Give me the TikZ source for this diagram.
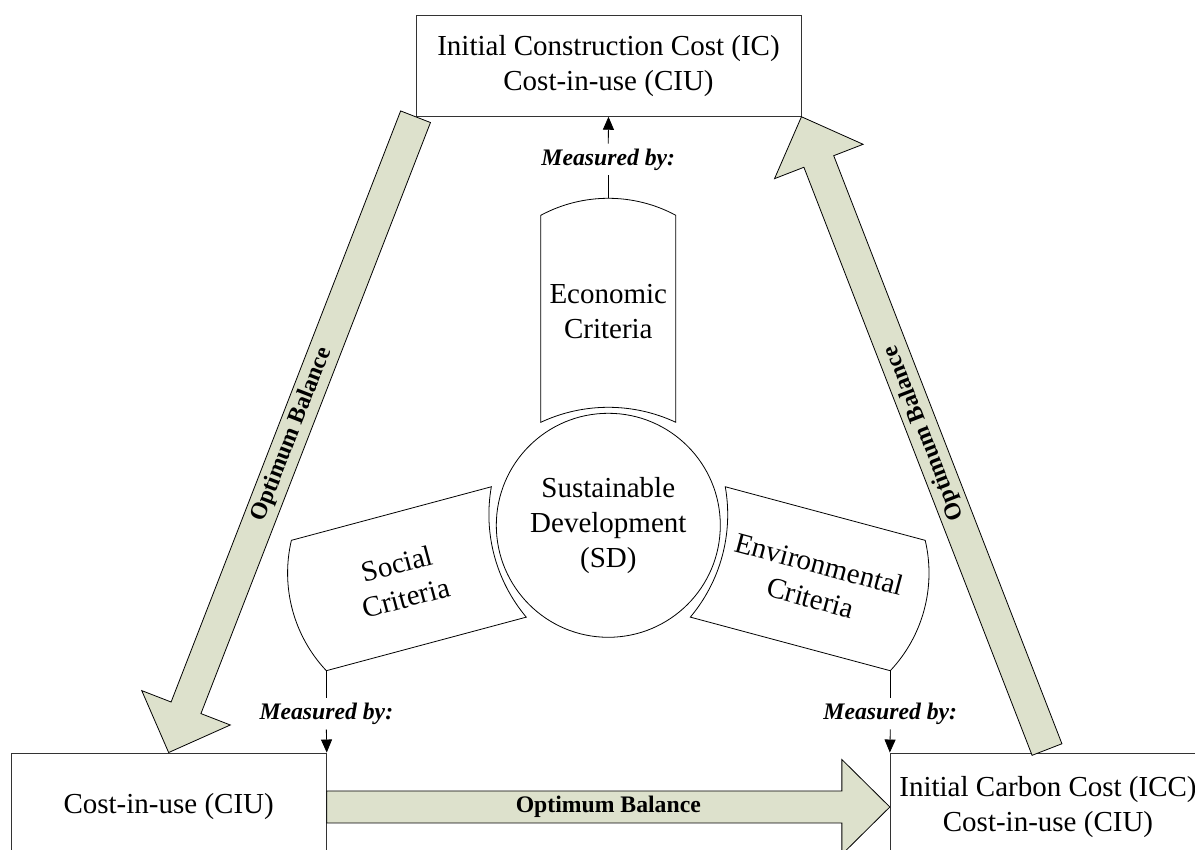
\documentclass[tikz,border=0pt]{standalone}
\usepackage{fontspec}
\setmainfont{Liberation Serif}
\usetikzlibrary{calc,arrows.meta}
\definecolor{fatfill}{RGB}{221,225,204}
\newcommand\fatarrow[4][]{%
  \coordinate (fa-n) at ($(#3)!48pt!(#2)$);
  \draw[fat] ($(#2)!16pt!90:(#3)$) -- ($(fa-n)!16pt!90:(#3)$) -- ($(fa-n)!47.5pt!90:(#3)$) -- (#3)
    -- ($(fa-n)!47.5pt!-90:(#3)$) -- ($(fa-n)!16pt!-90:(#3)$) -- ($(#2)!16pt!-90:(#3)$) -- cycle;
  \path (#2) -- (#3) node[midway, sloped, lbl, #1] {#4};
}
\begin{document}
\begin{tikzpicture}[x=1pt,y=1pt,
  main/.style={font=\fontsize{29}{35}\selectfont, align=center},
  box/.style={draw=black!80, line width=0.9pt, fill=white, rectangle, inner sep=0pt, main},
  crit/.style={draw=black, line width=0.8pt, fill=white},
  meas/.style={font=\fontsize{23.7}{28}\selectfont\bfseries\itshape, inner xsep=2pt, inner ysep=5pt},
  conn/.style={draw=black, line width=0.8pt},
  tri/.style={-{Triangle[width=11pt,length=13pt]}},
  fat/.style={draw=black, line width=0.8pt, fill=fatfill, line join=miter},
  lbl/.style={font=\fontsize{23.7}{28}\selectfont\bfseries, inner sep=0pt}]
\path[use as bounding box, clip] (0,0) rectangle (1195,850);

% boxes
\node[box, minimum width=385pt, minimum height=101.3pt] (top) at (608.5,784.35) {Initial Construction Cost (IC)\\Cost-in-use (CIU)};
\node[box, minimum width=315.3pt, minimum height=108pt] (left) at (168.65,43) {Cost-in-use (CIU)};
\node[box, minimum width=315.4pt, minimum height=108pt] (right) at (1048,43) {Initial Carbon Cost (ICC)\\Cost-in-use (CIU)};

% big arrows
\coordinate (rtail) at ($(right.north)+(-1,3)$);
\fatarrow[name=ob1]{top.south west}{left.north}{Optimum Balance}
\fatarrow[name=ob2, allow upside down]{rtail}{top.south east}{Optimum Balance}
\fatarrow[name=ob3]{left.east}{right.west}{Optimum Balance}

% centre
\node[draw, circle, line width=0.8pt, minimum size=224pt, inner sep=0pt, main] (sd) at (608.3,324.7) {Sustainable\\Development\\(SD)};

\begin{scope}[shift={(sd.center)}]
  \draw[crit] (-67.5,103) arc[start angle=115.05,end angle=64.95,radius=159.4] -- (67.5,310)
    arc[start angle=61.73,end angle=118.27,radius=142.5] -- cycle;
  \coordinate (eco-o) at (0,327);
\end{scope}
\begin{scope}[shift={(sd.center)}, rotate=105]
  \draw[crit] (-67.5,103) arc[start angle=115.05,end angle=64.95,radius=159.4] -- (67.5,310)
    arc[start angle=61.73,end angle=118.27,radius=142.5] -- cycle;
  \coordinate (soc-o) at (-67.5,310);
\end{scope}
\begin{scope}[shift={(sd.center)}, rotate=-105]
  \draw[crit] (-67.5,103) arc[start angle=115.05,end angle=64.95,radius=159.4] -- (67.5,310)
    arc[start angle=61.73,end angle=118.27,radius=142.5] -- cycle;
  \coordinate (env-o) at (67.5,310);
\end{scope}
\node[main] (eco) at ($(sd.center)+(90:214)$) {Economic\\Criteria};
\node[main, rotate=15] (soc) at ($(sd.center)+(195:214)$) {Social\\Criteria};
\node[main, rotate=-15] (env) at ($(sd.center)+(-15:214)$) {Environmental\\Criteria};

% measured by
\node[meas] (m1) at (608.3,690.5) {Measured by:};
\coordinate (mlvl) at (0,136.5);
\node[meas] (m2) at (soc-o |- mlvl) {Measured by:};
\node[meas] (m3) at (env-o |- mlvl) {Measured by:};
\draw[conn] (eco-o) -- (m1.south);
\draw[conn, tri] (m1.north) -- (top.south);
\draw[conn] (soc-o) -- (m2.north);
\draw[conn, tri] (m2.south) -- (left.north east);
\draw[conn] (env-o) -- (m3.north);
\draw[conn, tri] (m3.south) -- (right.north west);
\end{tikzpicture}
\end{document}
